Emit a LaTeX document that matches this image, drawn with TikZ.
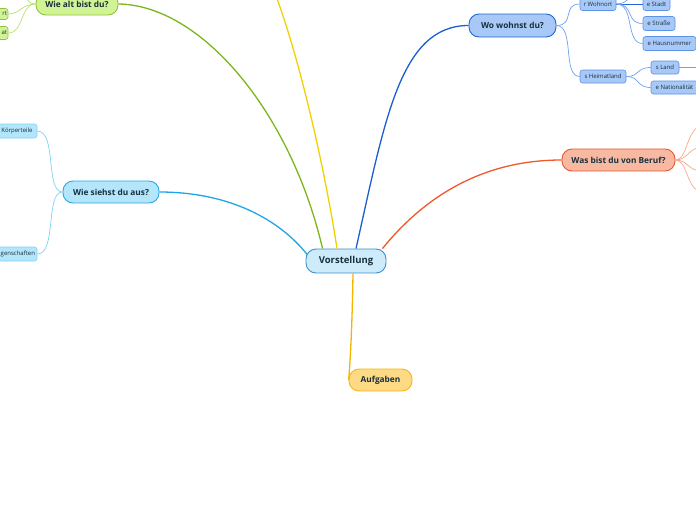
\documentclass[tikz,border=0pt]{standalone}
\usepackage{fontspec}
\setmainfont{Open Sans}
\definecolor{txt}{HTML}{17303C}
\definecolor{rootfill}{HTML}{CDEBFB}
\definecolor{rootdraw}{HTML}{3E8FCB}
\definecolor{grfill}{HTML}{D2F296}
\definecolor{grdraw}{HTML}{8CC63F}
\definecolor{grline}{HTML}{7DB51A}
\definecolor{grlight}{HTML}{BADF72}
\definecolor{cyfill}{HTML}{B3E5FB}
\definecolor{cydraw}{HTML}{2AA8E2}
\definecolor{cyline}{HTML}{1EA6E6}
\definecolor{cylight}{HTML}{7FD2F7}
\definecolor{blfill}{HTML}{A8C8F7}
\definecolor{bldraw}{HTML}{2266D4}
\definecolor{blline}{HTML}{1B5ED0}
\definecolor{bllight}{HTML}{6FA0EC}
\definecolor{bsfill}{HTML}{A8C8F7}
\definecolor{bsdraw}{HTML}{5B93E8}
\definecolor{orfill}{HTML}{F8B9A2}
\definecolor{ordraw}{HTML}{E8582A}
\definecolor{orline}{HTML}{F0582A}
\definecolor{orlight}{HTML}{F7A88C}
\definecolor{yeline}{HTML}{F0D200}
\definecolor{aufill}{HTML}{FFDA85}
\definecolor{audraw}{HTML}{F5B715}
\definecolor{auline}{HTML}{F5B400}
\tikzset{
  mainbox/.style={draw, rounded corners=10pt, line width=0.9pt, inner sep=0pt,
    text=txt, font=\bfseries\fontsize{8.3}{9}\selectfont},
  smallbox/.style={draw, rounded corners=2.5pt, line width=0.6pt, inner sep=0pt,
    text=txt, font=\fontsize{6}{7}\selectfont},
  conn/.style={line width=1.3pt},
  subconn/.style={line width=0.7pt}
}
\begin{document}
\begin{tikzpicture}[x=1pt,y=-1pt]
\useasboundingbox (0,0) rectangle (696,520);
\clip (0,0) rectangle (696,520);

% root
\node[mainbox, fill=rootfill, draw=rootdraw, minimum width=80pt, minimum height=24pt,
  font=\bfseries\fontsize{9.5}{10}\selectfont] (root) at (346,261) {Vorstellung};

% main topics
\node[mainbox, fill=grfill, draw=grdraw, minimum width=82pt, minimum height=22pt] (alt) at (77,4) {Wie alt bist du?};
\node[mainbox, fill=cyfill, draw=cydraw, minimum width=96pt, minimum height=22pt] (aus) at (111,192) {Wie siehst du aus?};
\node[mainbox, fill=blfill, draw=bldraw, minimum width=87pt, minimum height=23pt] (wo) at (512.5,25.5) {Wo wohnst du?};
\node[mainbox, fill=orfill, draw=ordraw, minimum width=113pt, minimum height=22pt] (beruf) at (618.5,160) {Was bist du von Beruf?};
\node[mainbox, fill=aufill, draw=audraw, minimum width=63pt, minimum height=22pt] (auf) at (380.5,380) {Aufgaben};
\coordinate (yel) at (276,-4);

% main connectors
\draw[conn, grline] (root.north west) ++(17,0) coordinate (r1) .. controls (290,110) and (200,5) .. (alt.east);
\draw[conn, yeline] (root.north) ++(-9,0) coordinate (r2) .. controls (325,170) and (300,60) .. (yel);
\draw[conn, blline] (root.north) ++(10,0) coordinate (r3) .. controls (385,120) and (400,25.5) .. (wo.west);
\draw[conn, orline] (root.north east) ++(-4,0) coordinate (r4) .. controls (430,190) and (490,160) .. (beruf.west);
\draw[conn, cyline] (root.west) ++(2,-6) coordinate (r5) .. controls (280,220) and (230,192) .. (aus.east);
\draw[conn, auline] (root.south) ++(7,0) coordinate (r6) .. controls (352,340) and (349,378) .. (auf.west);

% Wie alt children
\node[smallbox, fill=grfill, draw=grdraw, minimum width=40pt, minimum height=11pt,
  text width=38pt, align=right] (a1) at (-12,14) {rt};
\node[smallbox, fill=grfill, draw=grdraw, minimum width=40pt, minimum height=13pt,
  text width=38pt, align=right] (a2) at (-12,33) {at};
\coordinate (a3) at (18,-8);
\draw[subconn, grlight] (alt.west) .. controls (22,4) and (20,14) .. (a1.east);
\draw[subconn, grlight] (alt.west) .. controls (20,4) and (24,33) .. (a2.east);
\draw[subconn, grlight] (alt.west) .. controls (26,4) and (26,-6) .. (a3);

% Wie siehst children
\node[smallbox, fill=cyfill, draw=cylight, minimum width=40pt, minimum height=14pt] (k1) at (17,131) {Körperteile};
\node[smallbox, fill=cyfill, draw=cylight, minimum width=70pt, minimum height=14pt,
  text width=66pt, align=right] (k2) at (2,254) {genschaften};
\draw[subconn, cylight] (aus.west) .. controls (45,192) and (57,131) .. (k1.east);
\draw[subconn, cylight] (aus.west) .. controls (45,192) and (57,254) .. (k2.east);

% Wo wohnst children
\node[smallbox, fill=bsfill, draw=bsdraw, minimum width=36pt, minimum height=13pt] (w1) at (598,4) {r Wohnort};
\node[smallbox, fill=bsfill, draw=bsdraw, minimum width=46pt, minimum height=13pt] (w2) at (603,76.5) {s Heimatland};
\draw[subconn, bllight] (wo.east) .. controls (575,25.5) and (562,4) .. (w1.west);
\draw[subconn, bllight] (wo.east) .. controls (575,25.5) and (562,76.5) .. (w2.west);

\node[smallbox, fill=bsfill, draw=bsdraw, minimum width=27pt, minimum height=13pt] (s1) at (656.5,4) {e Stadt};
\node[smallbox, fill=bsfill, draw=bsdraw, minimum width=32pt, minimum height=14pt] (s2) at (659,23.5) {e Straße};
\node[smallbox, fill=bsfill, draw=bsdraw, minimum width=53pt, minimum height=14pt] (s3) at (669.5,43.5) {e Hausnummer};
\coordinate (s4) at (645,-12);
\draw[subconn, bldraw] (w1.east) -- (s1.west);
\draw[subconn, bllight] (w1.east) .. controls (635,4) and (625,23.5) .. (s2.west);
\draw[subconn, bllight] (w1.east) .. controls (635,4) and (625,43.5) .. (s3.west);
\draw[subconn, bllight] (w1.east) .. controls (630,4) and (630,-8) .. (s4);

\node[smallbox, fill=bsfill, draw=bsdraw, minimum width=28pt, minimum height=13pt] (h1) at (665,67.5) {s Land};
\node[smallbox, fill=bsfill, draw=bsdraw, minimum width=47pt, minimum height=13pt] (h2) at (674.5,87.5) {e Nationalität};
\coordinate (h3) at (700,67.5);
\draw[subconn, bllight] (w2.east) .. controls (640,76.5) and (636,67.5) .. (h1.west);
\draw[subconn, bllight] (w2.east) .. controls (640,76.5) and (636,87.5) .. (h2.west);
\draw[subconn, bllight] (h1.east) -- (h3);

% Beruf children (off-canvas)
\coordinate (b1) at (702,126);
\coordinate (b2) at (702,147);
\coordinate (b3) at (702,171);
\coordinate (b4) at (702,192);
\draw[subconn, orlight] (beruf.east) .. controls (688,160) and (686,128) .. (b1);
\draw[subconn, orlight] (beruf.east) .. controls (688,160) and (688,148) .. (b2);
\draw[subconn, orlight] (beruf.east) .. controls (688,160) and (688,171) .. (b3);
\draw[subconn, orlight] (beruf.east) .. controls (688,160) and (686,190) .. (b4);
\end{tikzpicture}
\end{document}
